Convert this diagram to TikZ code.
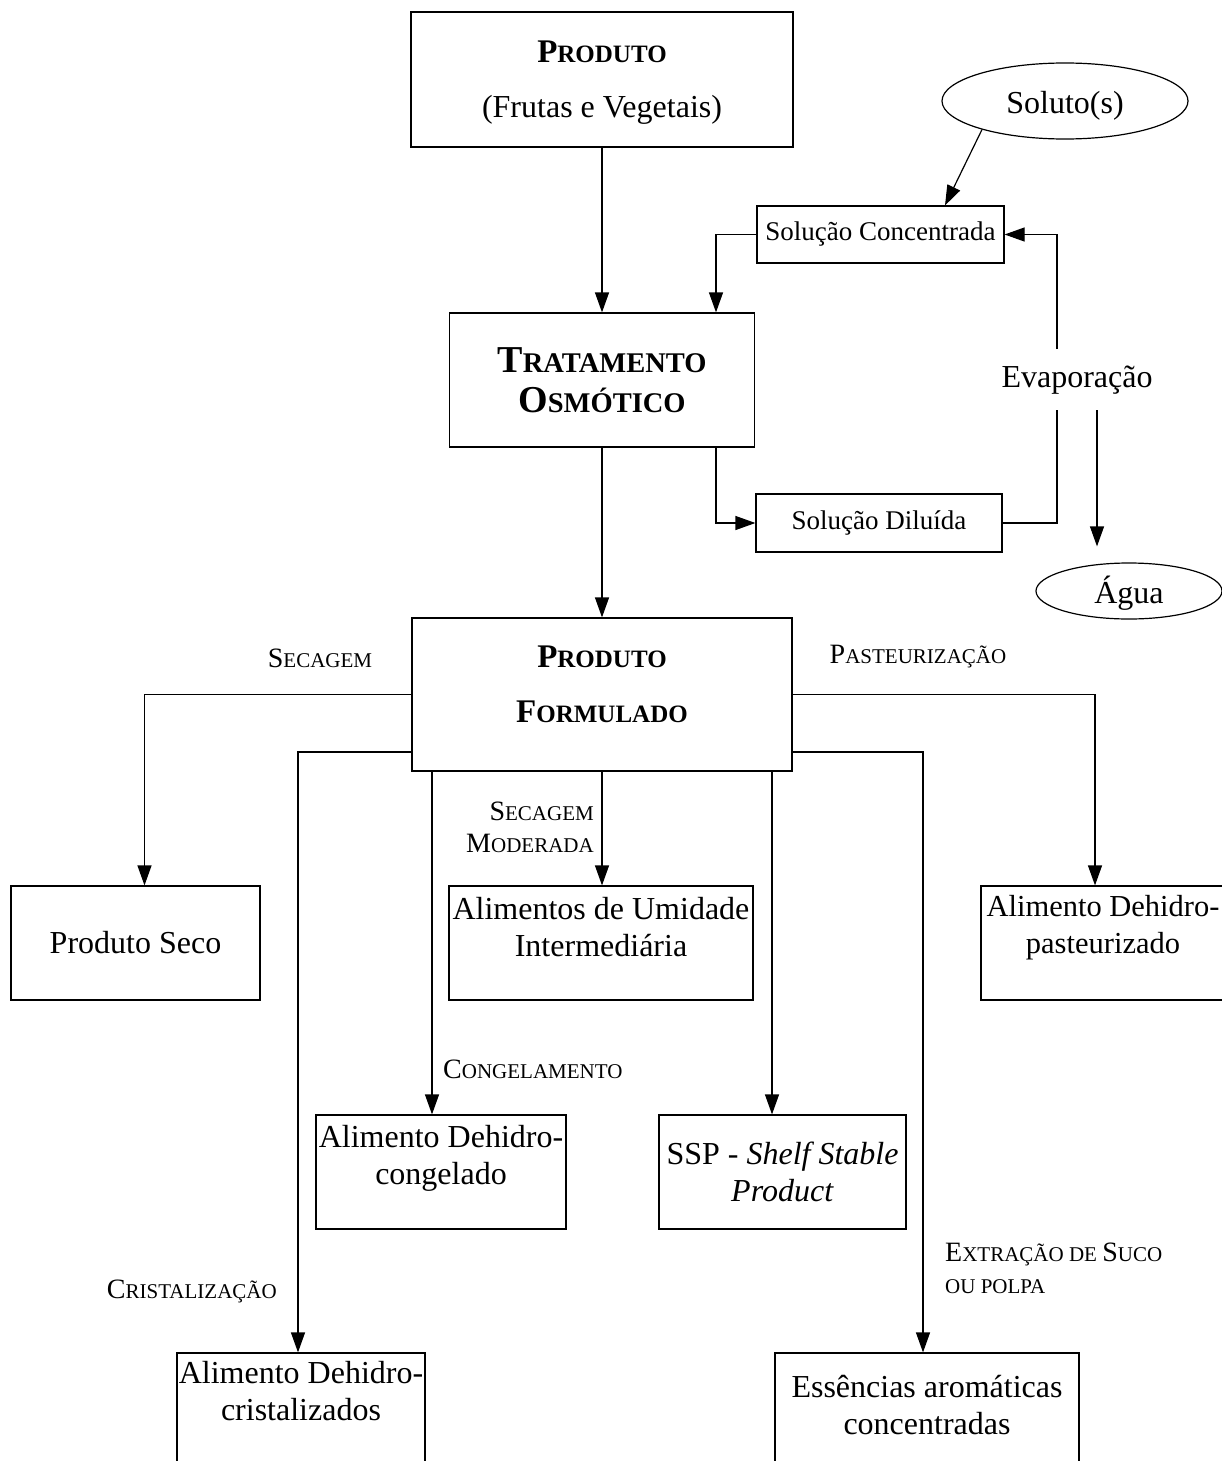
\documentclass[tikz,border=0pt]{standalone}
\usepackage{fontspec}
\setmainfont{Liberation Serif}
\usetikzlibrary{arrows.meta,shapes.geometric,calc}
\newcommand\lsc[2]{{\fontsize{28}{32}\selectfont #1}{\fontsize{21}{24}\selectfont #2}}
\newcommand\hsc[2]{{\fontsize{33}{36}\selectfont #1}{\fontsize{25}{28}\selectfont #2}}
\newcommand\tsc[2]{{\fontsize{38}{40}\selectfont #1}{\fontsize{28.5}{31}\selectfont #2}}
\newcommand\lowr[2]{\raisebox{-#1}[\height][\depth]{#2}}
\begin{document}
\begin{tikzpicture}[x=1pt,y=-1pt,
  box/.style={draw,line width=1.2pt,inner sep=0pt,align=center,font=\fontsize{32}{37}\selectfont},
  smallbox/.style={draw,line width=1.2pt,inner sep=0pt,align=center,font=\fontsize{27}{30}\selectfont},
  oval/.style={draw,ellipse,line width=1.2pt,inner sep=0pt,font=\fontsize{32}{36}\selectfont},
  txt/.style={inner sep=0pt,align=center,font=\fontsize{32}{37}\selectfont},
  lbl/.style={inner sep=0pt,font=\fontsize{28}{32}\selectfont},
  conn/.style={line width=1.2pt},
  arr/.style={line width=1.2pt,-{Triangle[length=20pt,width=14pt]}}]
\useasboundingbox (0,0) rectangle (1221,1461);

% top part
\node[box,minimum width=382pt,minimum height=135pt] (prod) at (602,79.5)
  {\lowr{3pt}{\bfseries\hsc{P}{RODUTO}}\\[18pt]\lowr{3pt}{(Frutas e Vegetais)}};
\node[box,minimum width=305pt,minimum height=134pt] (trat) at (602,380)
  {\bfseries\tsc{T}{RATAMENTO}\\[3pt]\bfseries\tsc{O}{SMÓTICO}};
\node[oval,minimum width=246pt,minimum height=76pt] (sol) at (1065,101) {\lowr{5pt}{Soluto(s)}};
\node[smallbox,minimum width=247pt,minimum height=57pt] (sc) at (880.5,234.5) {Solução Concentrada};
\node[smallbox,minimum width=246pt,minimum height=58pt] (sd) at (879,523) {Solução Diluída};
\node[txt] (evap) at (1077,380) {Evaporação};
\node[oval,minimum width=186pt,minimum height=56pt] (agua) at (1129,591) {\lowr{2pt}{Água}};
\coordinate (ev1) at (1057,410);
\coordinate (ev2) at (1057,349);
\coordinate (ev3) at (1097,410);

% formulated product
\node[box,minimum width=380pt,minimum height=153pt] (pf) at (602,694.5) {};
\node[txt] (pft) at (602,684.5) {\bfseries\hsc{P}{RODUTO}\\[18pt]\bfseries\hsc{F}{ORMULADO}};

% outputs
\node[box,minimum width=249pt,minimum height=114pt] (seco) at (135.5,943) {Produto Seco};
\node[box,minimum width=304pt,minimum height=114pt] (umid) at (601,943) {};
\node[txt] (umidt) at (601,927.5) {Alimentos de Umidade\\Intermediária};
\node[box,minimum width=245pt,minimum height=114pt] (past) at (1103.5,943) {};
\node[txt,font=\fontsize{30.5}{37}\selectfont] (pastt) at (1103,927.5) {Alimento Dehidro-\\pasteurizado};
\node[box,minimum width=250pt,minimum height=114pt] (cong) at (441,1172) {};
\node[txt] (congt) at (441,1158) {Alimento Dehidro-\\congelado};
\node[box,minimum width=247pt,minimum height=114pt] (ssp) at (782.5,1172)
  {SSP - \textit{Shelf Stable}\\\textit{Product}};
\node[box,minimum width=248pt,minimum height=117pt] (crist) at (301,1411.5) {};
\node[txt] (cristt) at (301,1391.5) {Alimento Dehidro-\\cristalizados};
\node[box,minimum width=304pt,minimum height=117pt] (ess) at (927,1411.5) {};
\node[txt] (esst) at (927,1405.5) {Essências aromáticas\\concentradas};

% labels
\node[lbl] (l1) at (320,658) {\lsc{S}{ECAGEM}};
\node[lbl] (l2) at (918,657) {\lsc{P}{ASTEURIZAÇÃO}};
\node[lbl,anchor=east,align=right] (l3) at (594,827) {\lsc{S}{ECAGEM}\\\lsc{M}{ODERADA}};
\node[lbl,anchor=west] (l4) at (443,1069) {\lsc{C}{ONGELAMENTO}};
\node[lbl,anchor=east] (l5) at (277,1291) {\lsc{C}{RISTALIZAÇÃO}};
\node[lbl,anchor=west,align=left] (l6) at (945,1268) {\lsc{E}{XTRAÇÃO DE }\lsc{S}{UCO}\\{\fontsize{21}{24}\selectfont OU POLPA}};

% connectors
\draw[arr] (prod.south) -- (trat.north);
\draw[arr] (sol.199) -- ([xshift=64.5pt]sc.north);
\draw[arr] (sc.west) -| ([xshift=114pt]trat.north);
\draw[arr] ([xshift=114pt]trat.south) |- (sd.west);
\draw[conn] (sd.east) -| (ev1);
\draw[arr] (ev2) |- (sc.east);
\draw[arr,shorten >=16pt] (ev3) -- (ev3 |- agua.north);
\draw[arr] (trat.south) -- (pf.north);

\draw[arr] (pf.west) -| ([xshift=9pt]seco.north);
\draw[arr] ([yshift=-57.5pt]pf.west) -| ([xshift=-3pt]crist.north);
\draw[arr] ([xshift=-170pt]pf.south) -- ([xshift=-170pt]pf.south |- cong.north);
\draw[arr] (pf.south) -- (pf.south |- umid.north);
\draw[arr] ([xshift=170pt]pf.south) -- ([xshift=170pt]pf.south |- ssp.north);
\draw[arr] ([yshift=-57.5pt]pf.east) -| ([xshift=-4pt]ess.north);
\draw[arr] (pf.east) -| ([xshift=-8.5pt]past.north);
\end{tikzpicture}
\end{document}
